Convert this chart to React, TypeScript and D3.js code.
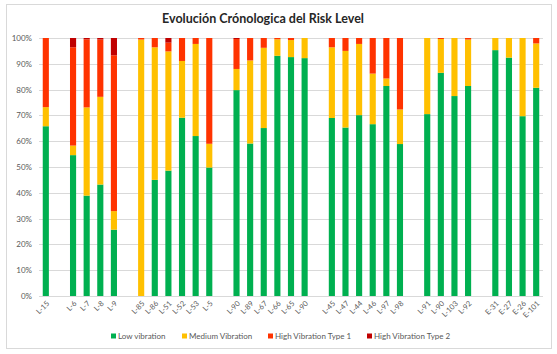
import { useRef, useEffect } from 'react';
import * as d3 from 'd3';

// one slot per bar, '' marks an empty slot between groups
const categories = [
  'L-15', '', 'L-6', 'L-7', 'L-8', 'L-9', '', 'L-85', 'L-86', 'L-51', 'L-52', 'L-53', 'L-5', '',
  'L-90', 'L-89', 'L-67', 'L-66', 'L-65', 'L-90', '', 'L-45', 'L-47', 'L-44', 'L-46', 'L-97', 'L-98', '',
  'L-91', 'L-90', 'L-103', 'L-92', '', 'E-31', 'E-27', 'E-26', 'E-101',
];
const lowVibration = [
  65.8, 0, 54.6, 38.9, 43.2, 25.7, 0, 0, 45.0, 48.6, 69.1, 62.0, 49.8, 0,
  79.8, 59.1, 65.1, 93.1, 92.6, 92.2, 0, 69.0, 65.3, 70.1, 66.6, 81.4, 58.9, 0,
  70.5, 86.5, 77.5, 81.4, 0, 95.3, 92.4, 69.7, 80.7,
];
const mediumVibration = [
  7.4, 0, 3.7, 34.2, 34.0, 7.2, 0, 99.4, 51.4, 46.2, 22.0, 35.7, 9.2, 0,
  8.2, 32.2, 31.1, 6.4, 6.6, 7.8, 0, 27.4, 29.7, 27.6, 19.6, 2.9, 13.4, 0,
  29.5, 13.1, 22.5, 18.0, 0, 4.7, 7.6, 30.3, 17.2,
];
const highType1 = [
  26.8, 0, 38.1, 26.4, 22.2, 60.4, 0, 0.6, 3.6, 3.4, 8.9, 2.3, 41.0, 0,
  11.6, 8.7, 3.8, 0.5, 0.8, 0, 0, 3.6, 5.0, 2.3, 13.8, 15.7, 27.7, 0,
  0, 0.4, 0, 0.6, 0, 0, 0, 0, 2.1,
];
const highType2 = [
  0, 0, 3.6, 0.5, 0.6, 6.7, 0, 0, 0, 1.8, 0, 0, 0, 0,
  0.4, 0, 0, 0, 0, 0, 0, 0, 0, 0, 0, 0, 0, 0,
  0, 0, 0, 0, 0, 0, 0, 0, 0,
];
const seriesNames = ['Low vibration', 'Medium Vibration', 'High Vibration Type 1', 'High Vibration Type 2'];
const seriesColors = ['#00b050', '#ffc000', '#ff3300', '#c00000'];
const yTicks = [0, 0.1, 0.2, 0.3, 0.4, 0.5, 0.6, 0.7, 0.8, 0.9, 1];

const font = 'Lato, "Open Sans", sans-serif';

export default function App() {
  const svgRef = useRef<SVGSVGElement>(null);

  useEffect(() => {
    if (!svgRef.current) return;
    const svg = d3.select(svgRef.current);
    svg.selectAll('*').remove();

    const width = 557;
    const height = 354;

    svg.append('rect')
      .attr('x', 6.5).attr('y', 4.5).attr('width', 545).attr('height', 344)
      .attr('fill', '#fff').attr('stroke', '#d9d9d9');

    const rows = categories.map((c, i) => ({
      key: `s${i}`,
      label: c,
      low: lowVibration[i] / 100,
      med: mediumVibration[i] / 100,
      h1: highType1[i] / 100,
      h2: highType2[i] / 100,
    }));

    const x = d3.scaleBand<string>()
      .domain(rows.map((r) => r.key))
      .range([39, 543])
      .paddingInner(0.55)
      .paddingOuter(0.275);

    const y = d3.scaleLinear().domain([0, 1]).range([296, 38]);

    // Grid
    svg.append('g')
      .selectAll('line')
      .data(yTicks)
      .join('line')
      .attr('x1', 39).attr('x2', 543)
      .attr('y1', (d) => Math.round(y(d)) + 0.5).attr('y2', (d) => Math.round(y(d)) + 0.5)
      .attr('stroke', '#d9d9d9').attr('stroke-width', 1);

    svg.append('g')
      .selectAll('text')
      .data(yTicks)
      .join('text')
      .attr('x', 32).attr('y', (d) => y(d) + 3)
      .attr('text-anchor', 'end')
      .attr('fill', '#595959')
      .style('font-family', font).style('font-size', '8px')
      .text((d) => d3.format('.0%')(d));

    // Stacked bars
    const keys = ['low', 'med', 'h1', 'h2'];
    const stack = d3.stack<(typeof rows)[number]>().keys(keys);
    const layers = stack(rows.filter((r) => r.label !== ''));

    layers.forEach((layer, li) => {
      svg.append('g')
        .selectAll('rect')
        .data(layer)
        .join('rect')
        .attr('x', (d) => x(d.data.key)!)
        .attr('width', x.bandwidth())
        .attr('y', (d) => y(d[1]))
        .attr('height', (d) => Math.max(0, y(d[0]) - y(d[1])))
        .attr('fill', seriesColors[li]);
    });

    // X labels
    svg.append('g')
      .selectAll('text')
      .data(rows.filter((r) => r.label !== ''))
      .join('text')
      .attr('transform', (d) => `translate(${x(d.key)! + x.bandwidth() / 2 + 4},${304}) rotate(-45)`)
      .attr('text-anchor', 'end')
      .attr('fill', '#595959')
      .style('font-family', font).style('font-size', '7.5px')
      .text((d) => d.label);

    // Title
    svg.append('text')
      .attr('x', 263).attr('y', 23)
      .attr('text-anchor', 'middle')
      .attr('fill', '#262626')
      .style('font-family', font).style('font-size', '12.5px').style('font-weight', 'bold')
      .text('Evolución Crónologica del Risk Level');

    // Legend
    const legendX = [111, 182, 268, 367];
    const legend = svg.append('g');
    seriesNames.forEach((name, i) => {
      legend.append('rect')
        .attr('x', legendX[i]).attr('y', 333.5)
        .attr('width', 5).attr('height', 5)
        .attr('fill', seriesColors[i]);
      legend.append('text')
        .attr('x', legendX[i] + 7).attr('y', 339)
        .attr('fill', '#595959')
        .style('font-family', font).style('font-size', '8px')
        .text(name);
    });

    svg.attr('viewBox', `0 0 ${width} ${height}`);
  }, []);

  return (
    <div style={{ position: 'fixed', left: 0, top: 0, background: '#fff' }}>
      <svg ref={svgRef} width={557} height={354} style={{ display: 'block' }} />
    </div>
  );
}
